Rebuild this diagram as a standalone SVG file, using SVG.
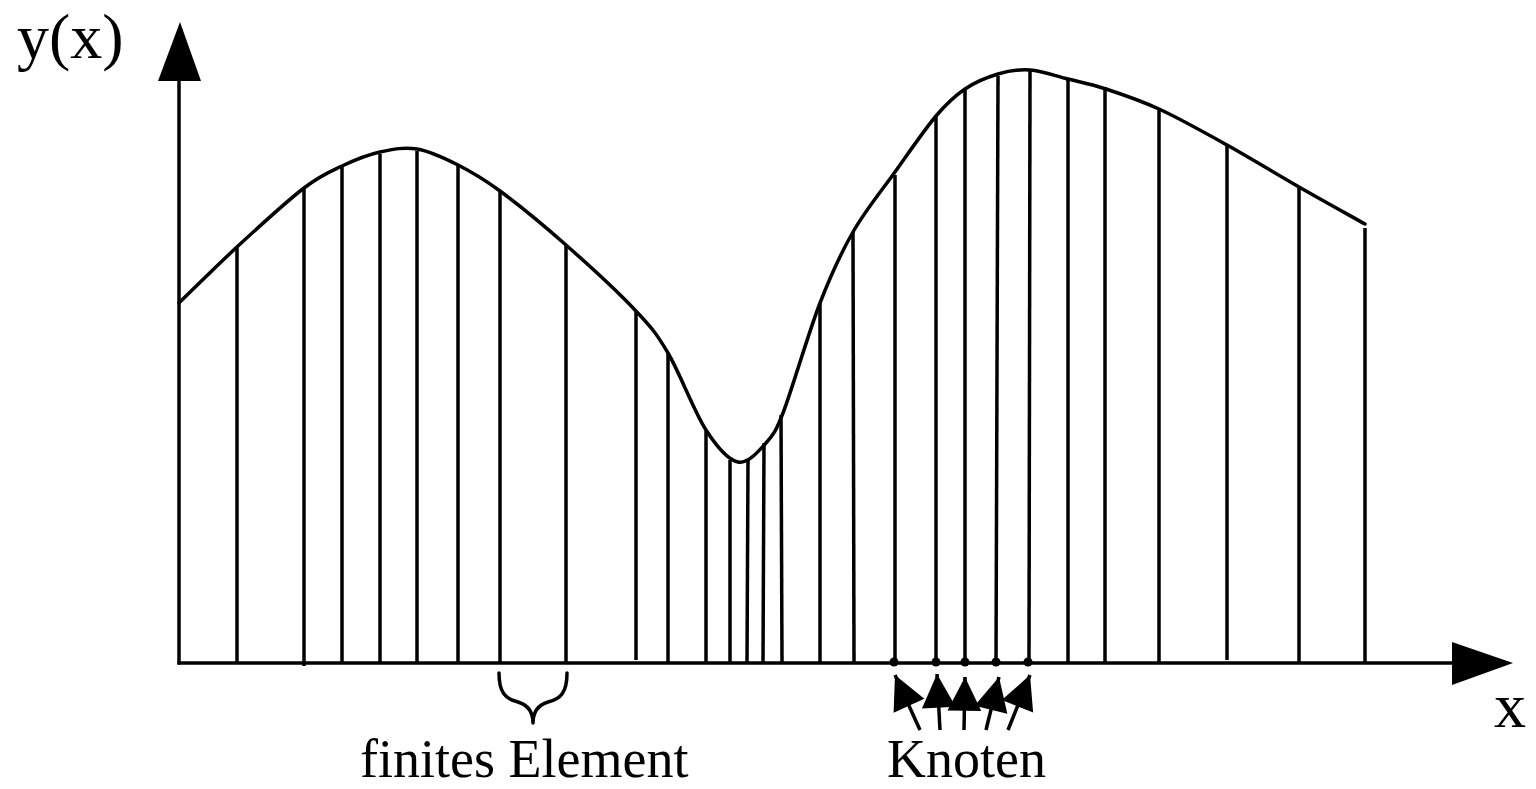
<svg xmlns="http://www.w3.org/2000/svg" width="1536" height="789" viewBox="0 0 1536 789">
<style>
.ln{stroke:#000;stroke-width:3.5;fill:none}
.crv{stroke:#000;stroke-width:3.5;fill:none;stroke-linejoin:round;stroke-linecap:round}
.hd{fill:#000;stroke:none}
.lbl{font-family:"Liberation Serif","Times New Roman",serif;fill:#000}
</style>
<defs>
<marker id="ah" markerUnits="userSpaceOnUse" markerWidth="40" markerHeight="40" viewBox="-30 -16 32 32" refX="0" refY="0" orient="auto">
<path d="M0,0 L-27,-13.5 L-27,13.5 Z" fill="#000"/>
</marker>
</defs>
<rect width="1536" height="789" fill="#fff"/>
<g id="axes">
<line class="ln" x1="179" y1="664.5" x2="179" y2="78"/>
<polygon class="hd" points="180,22 158,81 201,81"/>
<line class="ln" x1="177.5" y1="663" x2="1455" y2="663"/>
<polygon class="hd" points="1513,663 1452,642 1452,685"/>
</g>
<g id="curve">
<path class="crv" d="M179,303 C188.8,293.5 217.2,265.2 238,246 C258.8,226.8 286.7,201.3 304,188 C321.3,174.7 329.3,172 342,166 C354.7,160 367.5,154.8 380,152 C392.5,149.2 404,146.8 417,149 C430,151.2 444.2,158 458,165 C471.8,172 482,177.7 500,191 C518,204.3 543.5,225.2 566,245 C588.5,264.8 618,292 635,310 C652,328 656.2,333 668,353 C679.8,373 694.3,411.8 706,430 C717.7,448.2 728,459.8 738,462 C748,464.2 758.5,451.2 766,443 C773.5,434.8 776,431 783,413 C792,389.7 808.3,333.2 820,303 C831.7,272.8 840.5,253.8 853,232 C865.5,210.2 881.2,191.3 895,172 C908.8,152.7 924.3,129.8 936,116 C947.7,102.2 954.7,96 965,89 C975.3,82 987.2,77.2 998,74 C1008.8,70.8 1018.3,69.2 1030,70 C1041.7,70.8 1055.3,75.8 1068,79 C1080.7,82.2 1090.8,84 1106,89 C1121.2,94 1138.8,99.7 1159,109 C1179.2,118.3 1203.7,132 1227,145 C1250.3,158 1276,173.8 1299,187 C1322,200.2 1354,217.8 1365,224"/>
</g>
<g id="elements">
<line class="ln" x1="237" y1="247" x2="237" y2="663"/>
<line class="ln" x1="304" y1="188" x2="304" y2="666"/>
<line class="ln" x1="342" y1="167" x2="342" y2="663"/>
<line class="ln" x1="380" y1="154" x2="380" y2="663"/>
<line class="ln" x1="417" y1="151" x2="417" y2="663"/>
<line class="ln" x1="458" y1="166" x2="458" y2="663"/>
<line class="ln" x1="500" y1="192" x2="500" y2="663"/>
<line class="ln" x1="566" y1="245" x2="566" y2="663"/>
<line class="ln" x1="636" y1="311" x2="636" y2="660"/>
<line class="ln" x1="668" y1="353" x2="668" y2="663"/>
<line class="ln" x1="706" y1="431" x2="706" y2="663"/>
<line class="ln" x1="730" y1="460" x2="730" y2="664"/>
<line class="ln" x1="748" y1="460" x2="747" y2="663"/>
<line class="ln" x1="764" y1="443" x2="763" y2="663"/>
<line class="ln" x1="781" y1="415" x2="782" y2="663"/>
<line class="ln" x1="820" y1="303" x2="820" y2="664"/>
<line class="ln" x1="853" y1="232" x2="854" y2="663"/>
<line class="ln" x1="895" y1="175" x2="895" y2="663"/>
<line class="ln" x1="936" y1="117" x2="936" y2="663"/>
<line class="ln" x1="965" y1="89" x2="965" y2="663"/>
<line class="ln" x1="998" y1="76" x2="996" y2="663"/>
<line class="ln" x1="1030" y1="71" x2="1029" y2="663"/>
<line class="ln" x1="1068" y1="80" x2="1068" y2="664"/>
<line class="ln" x1="1105" y1="87" x2="1105" y2="663"/>
<line class="ln" x1="1159" y1="108" x2="1159" y2="663"/>
<line class="ln" x1="1227" y1="145" x2="1227" y2="660"/>
<line class="ln" x1="1299" y1="187" x2="1299" y2="663"/>
<line class="ln" x1="1365" y1="228" x2="1365" y2="663"/>
</g>
<g id="nodes">
<circle cx="894" cy="662" r="4.5" fill="#000"/>
<circle cx="936" cy="662" r="4.5" fill="#000"/>
<circle cx="965" cy="662" r="4.5" fill="#000"/>
<circle cx="996" cy="662" r="4.5" fill="#000"/>
<circle cx="1028" cy="662" r="4.5" fill="#000"/>
</g>
<g id="connectors">
<line class="ln" x1="920" y1="730" x2="895" y2="675" marker-end="url(#ah)"/>
<line class="ln" x1="940" y1="730" x2="937" y2="674" marker-end="url(#ah)"/>
<line class="ln" x1="964" y1="730" x2="965" y2="677" marker-end="url(#ah)"/>
<line class="ln" x1="986" y1="730" x2="999" y2="677" marker-end="url(#ah)"/>
<line class="ln" x1="1008" y1="730" x2="1030" y2="675" marker-end="url(#ah)"/>
</g>
<g id="brace">
<path class="crv" d="M499,673 C499,692 505,699 518,702 C528,705 533,712 533,723 C533,712 538,705 548,702 C561,699 567,692 567,673"/>
</g>
<g id="labels">
<text class="lbl" x="17" y="58" font-size="64">y(x)</text>
<text class="lbl" x="1494" y="727" font-size="64">x</text>
<text class="lbl" x="360" y="777" font-size="54">finites Element</text>
<text class="lbl" x="887" y="777" font-size="54">Knoten</text>
</g>
</svg>
